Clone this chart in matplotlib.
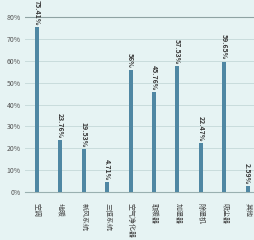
import matplotlib.pyplot as plt

plt.rcParams['font.family'] = ['Noto Sans CJK SC', 'DejaVu Sans']

categories = ["空调", "地暖", "新风系统", "三恒系统", "空气净化器", "取暖器", "加湿器", "除湿机", "吸尘器", "其他"]
values = [75.41, 23.76, 19.53, 4.71, 56, 45.76, 57.53, 22.47, 59.65, 2.59]
value_labels = ["75.41%", "23.76%", "19.53%", "4.71%", "56%", "45.76%", "57.53%", "22.47%", "59.65%", "2.59%"]
yticks = [0, 10, 20, 30, 40, 50, 60, 70, 80]

bg = "#e6f3f3"
fig = plt.figure(figsize=(2.54, 2.4), dpi=100, facecolor=bg)
ax = fig.add_axes([25 / 254, 0.2, 229 / 254, 0.8], facecolor=bg)

x = list(range(len(categories)))
ax.bar(x, values, width=0.17, color="#4f87a3", zorder=3)

for xi, v, lab in zip(x, values, value_labels):
    ax.text(xi, v + 0.8, lab, rotation=-90, ha="center", va="bottom",
            fontsize=5, fontweight="bold", color="#3a3a3a", zorder=4)

ax.set_xlim(-0.51, 9.27)
ax.set_ylim(0, 87.8)
ax.set_yticks(yticks)
ax.set_yticklabels([f"{t}%" for t in yticks], fontsize=5, color="#555555")
ax.set_xticks(x)
ax.set_xticklabels(categories, rotation=-90, fontsize=5, color="#444444", va="top")

for t in yticks[1:-1]:
    ax.axhline(t, color="#c9dcdc", lw=0.7, zorder=1)
ax.axhline(80, color="#8fa3a3", lw=0.8, zorder=1)

for s in ["top", "right", "left"]:
    ax.spines[s].set_visible(False)
ax.spines["bottom"].set_color("#9ab0b0")
ax.spines["bottom"].set_linewidth(0.8)
ax.tick_params(axis="y", length=0, pad=3)
ax.tick_params(axis="x", length=0, pad=8)

fig.savefig("out.png", dpi=100, facecolor=bg)
